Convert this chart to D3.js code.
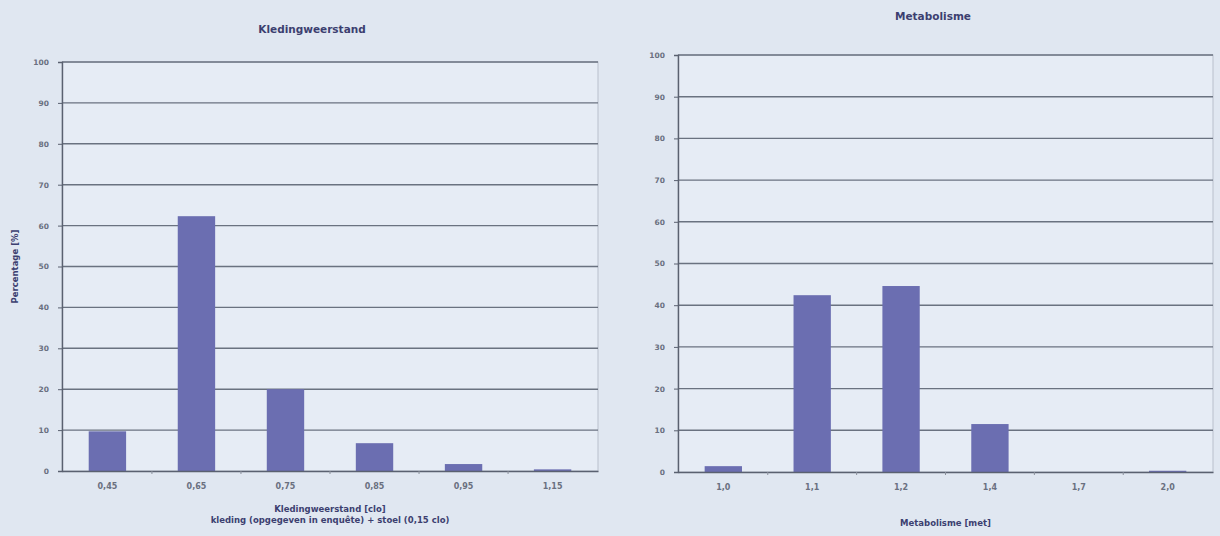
<!DOCTYPE html>
<html><head><meta charset="utf-8">
<script src="https://cdn.jsdelivr.net/npm/d3@7/dist/d3.min.js"></script>
<style>
html,body{margin:0;padding:0;background:#e0e7f1;}
svg{display:block;}
text{font-family:"DejaVu Sans",Arial,sans-serif;}
</style></head>
<body>
<svg id="c" width="1220" height="536"></svg>
<script>
const yTicks = [0,10,20,30,40,50,60,70,80,90,100];

const cloCategories = ["0,45","0,65","0,75","0,85","0,95","1,15"];
const cloValues = [9.7, 62.3, 20.0, 6.8, 1.7, 0.4];

const metCategories = ["1,0","1,1","1,2","1,4","1,7","2,0"];
const metValues = [1.4, 42.4, 44.6, 11.5, 0, 0.3];

const svg = d3.select("#c");

function drawChart(cfg){
  const g = svg.append("g");
  const x = d3.scaleBand().domain(cfg.cats).range([cfg.x0, cfg.x1]).paddingInner(0.58).paddingOuter(0.3);
  const y = d3.scaleLinear().domain([0,100]).range([cfg.y0, cfg.y1]);

  g.append("rect").attr("x",cfg.x0).attr("y",cfg.y1).attr("width",cfg.x1-cfg.x0).attr("height",cfg.y0-cfg.y1)
    .attr("fill","#e6ecf5").attr("stroke","#b9c0cc").attr("stroke-width",1);

  g.append("g").selectAll("line").data(yTicks.filter(d=>d>0)).join("line")
    .attr("x1",cfg.x0).attr("x2",cfg.x1).attr("y1",d=>y(d)).attr("y2",d=>y(d))
    .attr("stroke","#6a7280").attr("stroke-width",1.4);

  const ya = g.append("g").attr("transform",`translate(${cfg.x0},0)`)
    .call(d3.axisLeft(y).tickValues(yTicks).tickSize(4).tickPadding(9));
  ya.select(".domain").attr("stroke","#5a6170").attr("stroke-width",1.4);
  ya.selectAll(".tick line").attr("stroke","#5a6170");
  ya.selectAll("text").attr("fill","#6a7080").style("font-size","7.5px").style("font-weight","bold");

  g.append("g").selectAll("rect").data(cfg.vals).join("rect")
    .attr("x",(d,i)=>x(cfg.cats[i])).attr("width",x.bandwidth())
    .attr("y",d=>y(d)).attr("height",d=>cfg.y0-y(d))
    .attr("fill","#6b6eb1");

  const xa = g.append("g").attr("transform",`translate(0,${cfg.y0})`)
    .call(d3.axisBottom(x).tickSize(0).tickPadding(12));
  xa.select(".domain").attr("stroke","#5a6170").attr("stroke-width",1.6);
  xa.selectAll("text").attr("fill","#6a7080").style("font-size","8px").style("font-weight","bold");
  const step = x.step();
  const bounds = d3.range(1, cfg.cats.length).map(i => x(cfg.cats[i]) - (step - x.bandwidth())/2);
  g.append("g").selectAll("line").data(bounds).join("line")
    .attr("x1",d=>d).attr("x2",d=>d).attr("y1",cfg.y0).attr("y2",cfg.y0+3)
    .attr("stroke","#8a909c");

  g.append("text").attr("x",cfg.tx).attr("y",cfg.ty).attr("text-anchor","middle")
    .attr("fill","#3c3f70").style("font-size","10.5px").style("font-weight","bold").text(cfg.title);

  cfg.xtitles.forEach((t,i)=>{
    g.append("text").attr("x",(cfg.x0+cfg.x1)/2).attr("y",cfg.xty + i*11).attr("text-anchor","middle")
      .attr("fill","#3c3f70").style("font-size","8.5px").style("font-weight","bold").text(t);
  });
  if(cfg.ytitle){
    g.append("text").attr("transform",`translate(${cfg.ytx},${(cfg.y0+cfg.y1)/2}) rotate(-90)`)
      .attr("text-anchor","middle").attr("fill","#3c3f70").style("font-size","8.5px").style("font-weight","bold").text(cfg.ytitle);
  }
}

drawChart({cats:cloCategories, vals:cloValues, x0:62, x1:598, y0:471, y1:62,
  title:"Kledingweerstand", tx:312, ty:33,
  xtitles:["Kledingweerstand [clo]","kleding (opgegeven in enquête) + stoel (0,15 clo)"], xty:512,
  ytitle:"Percentage [%]", ytx:18});

drawChart({cats:metCategories, vals:metValues, x0:678, x1:1213, y0:472, y1:55,
  title:"Metabolisme", tx:933, ty:20,
  xtitles:["Metabolisme [met]"], xty:526});
</script>
</body></html>
